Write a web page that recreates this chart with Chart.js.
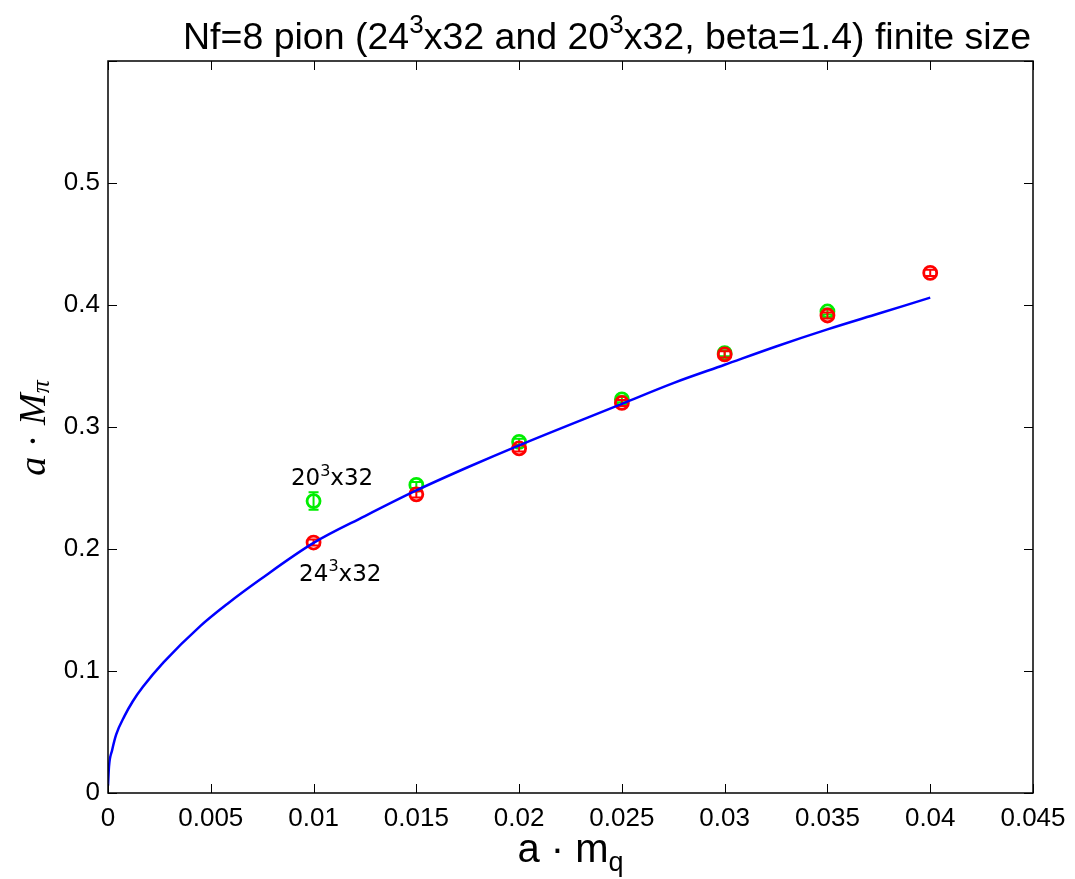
<!DOCTYPE html>
<html><head><meta charset="utf-8">
<script src="https://cdn.jsdelivr.net/npm/chart.js@4/dist/chart.umd.min.js"></script>
<style>html,body{margin:0;padding:0;background:#fff}#wrap{width:1075px;height:879px}</style>
</head><body><div id="wrap"><canvas id="c" width="1075" height="879"></canvas></div>
<script>
// ---- data ----
const xTickValues = [0, 0.005, 0.01, 0.015, 0.02, 0.025, 0.03, 0.035, 0.04, 0.045];
const xTickLabels = ['0', '0.005', '0.01', '0.015', '0.02', '0.025', '0.03', '0.035', '0.04', '0.045'];
const yTickValues = [0, 0.1, 0.2, 0.3, 0.4, 0.5, 0.6];
const yTickLabels = ['0', '0.1', '0.2', '0.3', '0.4', '0.5', ''];

const mq24 = [0.01, 0.015, 0.02, 0.025, 0.03, 0.035, 0.04];
const mpi24 = [0.2053, 0.2448, 0.2824, 0.3197, 0.3595, 0.3914, 0.4263];
const err24 = [0.0025, 0.0025, 0.0025, 0.0025, 0.0025, 0.0025, 0.0025];

const mq20 = [0.01, 0.015, 0.02, 0.025, 0.03, 0.035];
const mpi20 = [0.2393, 0.2525, 0.2878, 0.3227, 0.3605, 0.3947];
const err20 = [0.0072, 0.0025, 0.0025, 0.0025, 0.0025, 0.0025];

const fitX = [0, 0.00005, 0.0002, 0.0004, 0.0008, 0.0012, 0.0017, 0.0027, 0.0045, 0.0058, 0.0074, 0.01, 0.0125, 0.015, 0.0175, 0.02, 0.025, 0.0275, 0.03, 0.0325, 0.035, 0.0375, 0.04];
const fitY = [0.006, 0.022, 0.035, 0.048, 0.063, 0.075, 0.087, 0.107, 0.137, 0.155, 0.175, 0.205, 0.227, 0.248, 0.267, 0.285, 0.319, 0.336, 0.351, 0.366, 0.380, 0.393, 0.406];

const titleParts = [{t:'Nf=8 pion (24'},{t:'3',sup:true},{t:'x32 and 20'},{t:'3',sup:true},{t:'x32, beta=1.4) finite size'}];
const label20 = [{t:'20'},{t:'3',sup:true},{t:'x32'}];
const label24 = [{t:'24'},{t:'3',sup:true},{t:'x32'}];

const toPts = (xs, ys) => xs.map((x, i) => ({x, y: ys[i]}));

function drawRich(ctx, parts, x, y, size, family, align) {
  const supSize = Math.round(size * 0.68);
  let w = 0;
  const widths = parts.map(p => {
    ctx.font = (p.sup ? supSize : size) + 'px ' + family;
    const m = ctx.measureText(p.t).width; w += m; return m;
  });
  let cx = align === 'center' ? x - w / 2 : x;
  parts.forEach((p, i) => {
    ctx.font = (p.sup ? supSize : size) + 'px ' + family;
    ctx.fillText(p.t, cx, p.sup ? y - size * 0.42 : y);
    cx += widths[i];
  });
}

const errorBars = {
  id: 'errorBars',
  afterDatasetDraw(chart, args) {
    const ds = chart.data.datasets[args.index];
    if (!ds.errors) return;
    const ctx = chart.ctx, xs = chart.scales.x, ys = chart.scales.y;
    ctx.save();
    ctx.strokeStyle = ds.borderColor; ctx.lineWidth = 2;
    ds.data.forEach((p, i) => {
      const px = xs.getPixelForValue(p.x);
      const y1 = ys.getPixelForValue(p.y - ds.errors[i]);
      const y2 = ys.getPixelForValue(p.y + ds.errors[i]);
      const cw = 5;
      ctx.beginPath();
      ctx.moveTo(px, y1); ctx.lineTo(px, y2);
      ctx.moveTo(px - cw, y1); ctx.lineTo(px + cw, y1);
      ctx.moveTo(px - cw, y2); ctx.lineTo(px + cw, y2);
      ctx.stroke();
    });
    ctx.restore();
  }
};

const frame = {
  id: 'frame',
  afterDraw(chart) {
    const ctx = chart.ctx, a = chart.chartArea, xs = chart.scales.x, ys = chart.scales.y;
    ctx.save();
    ctx.strokeStyle = '#000'; ctx.lineWidth = 1.5;
    ctx.strokeRect(a.left, a.top, a.right - a.left, a.bottom - a.top);
    ctx.lineWidth = 1;
    const tl = 9;
    ctx.beginPath();
    xTickValues.forEach(v => {
      const px = Math.round(xs.getPixelForValue(v)) + 0.5;
      ctx.moveTo(px, a.bottom); ctx.lineTo(px, a.bottom - tl);
      ctx.moveTo(px, a.top); ctx.lineTo(px, a.top + tl);
    });
    yTickValues.forEach(v => {
      const py = Math.round(ys.getPixelForValue(v)) + 0.5;
      ctx.moveTo(a.left, py); ctx.lineTo(a.left + tl, py);
      ctx.moveTo(a.right, py); ctx.lineTo(a.right - tl, py);
    });
    ctx.stroke();

    ctx.fillStyle = '#000';
    ctx.textBaseline = 'alphabetic';
    // title
    drawRich(ctx, titleParts, 183, 49, 37.5, '"Liberation Sans", Arial, sans-serif', 'left');
    // annotations
    drawRich(ctx, label20, xs.getPixelForValue(0.0109), ys.getPixelForValue(0.2522), 23, '"DejaVu Sans", sans-serif', 'center');
    drawRich(ctx, label24, xs.getPixelForValue(0.0113), ys.getPixelForValue(0.1741), 23, '"DejaVu Sans", sans-serif', 'center');

    // x axis title: a · m_q
    const xf = '"Liberation Sans", Arial, sans-serif';
    ctx.font = '40px ' + xf;
    const main = 'a \u00b7 m';
    const wm = ctx.measureText(main).width;
    ctx.font = '27px ' + xf;
    const wq = ctx.measureText('q').width;
    let sx = (a.left + a.right) / 2 - (wm + wq) / 2;
    ctx.font = '40px ' + xf; ctx.fillText(main, sx, 862);
    ctx.font = '27px ' + xf; ctx.fillText('q', sx + wm, 871);

    // y axis title: a · M_pi (rotated)
    ctx.save();
    ctx.translate(33, 428);
    ctx.rotate(-Math.PI / 2);
    const sf = '"Liberation Serif", "DejaVu Serif", serif';
    const segs = [
      {t:'a', f:'italic 38px ' + sf, dy:0},
      {t:' \u00b7 ', f:'38px ' + sf, dy:0},
      {t:'M', f:'italic 38px ' + sf, dy:0},
      {t:'\u03c0', f:'italic 26px ' + sf, dy:4}
    ];
    let tw = 0;
    segs.forEach(s => { ctx.font = s.f; s.w = ctx.measureText(s.t).width; tw += s.w; });
    let cx = -tw / 2;
    segs.forEach(s => { ctx.font = s.f; ctx.fillText(s.t, cx, 12 + s.dy); cx += s.w; });
    ctx.restore();

    ctx.restore();
  }
};

new Chart(document.getElementById('c'), {
  data: {
    datasets: [
      {type:'line', data: toPts(fitX, fitY), borderColor:'#0000ff', borderWidth:2.5, pointRadius:0, fill:false, cubicInterpolationMode:'monotone'},
      {type:'scatter', data: toPts(mq24, mpi24), errors: err24, borderColor:'#ff0000', backgroundColor:'rgba(0,0,0,0)', pointRadius:6.5, borderWidth:2.8, pointStyle:'circle'},
      {type:'scatter', data: toPts(mq20, mpi20), errors: err20, borderColor:'#00ee00', backgroundColor:'rgba(0,0,0,0)', pointRadius:6.5, borderWidth:2.8, pointStyle:'circle'}
    ]
  },
  options: {
    responsive: false, animation: false, devicePixelRatio: 1,
    layout: {padding: {left: 0, right: 42, top: 61, bottom: 0}},
    plugins: {legend: {display: false}, tooltip: {enabled: false}, title: {display: false}},
    scales: {
      x: {
        type: 'linear', min: 0, max: 0.045,
        grid: {display: false}, border: {display: false},
        afterBuildTicks(s) { s.ticks = xTickValues.map(v => ({value: v})); },
        ticks: {callback: (v, i) => xTickLabels[i], font: {family: '"Liberation Sans", Arial, sans-serif', size: 26}, color: '#000', padding: 2, maxRotation: 0, autoSkip: false},
        afterFit(s) { s.height = 86; }
      },
      y: {
        type: 'linear', min: 0, max: 0.6,
        grid: {display: false}, border: {display: false},
        afterBuildTicks(s) { s.ticks = yTickValues.map(v => ({value: v})); },
        ticks: {callback: (v, i) => yTickLabels[i], font: {family: '"Liberation Sans", Arial, sans-serif', size: 26}, color: '#000', padding: 0, autoSkip: false},
        afterFit(s) { s.width = 108; }
      }
    }
  },
  plugins: [errorBars, frame]
});
</script></body></html>
